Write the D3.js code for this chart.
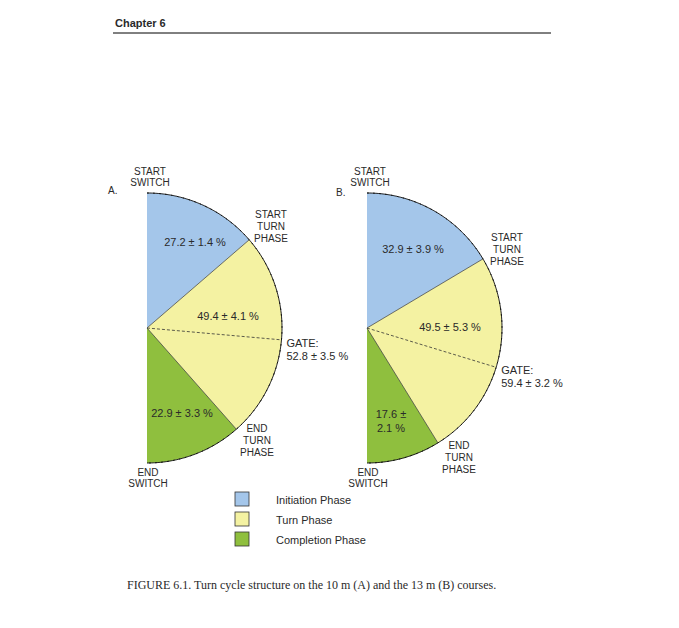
<!DOCTYPE html>
<html>
<head>
<meta charset="utf-8">
<script src="https://cdn.jsdelivr.net/npm/d3@7"></script>
<style>
  body { margin: 0; background: #fff; }
  svg text { font-family: "Liberation Sans", Arial, sans-serif; fill: #2a2a2a; }
</style>
</head>
<body>
<div id="chart"></div>
<script>
const phases = ['Initiation Phase', 'Turn Phase', 'Completion Phase'];
const colors = ['#a4c6ea', '#f4f2a2', '#8fbf3e'];
const valuesA = [27.2, 49.4, 22.9];
const valuesB = [32.9, 49.5, 17.6];
const labelsA = [['27.2 ± 1.4 %'], ['49.4 ± 4.1 %'], ['22.9 ± 3.3 %']];
const labelsB = [['32.9 ± 3.9 %'], ['49.5 ± 5.3 %'], ['17.6 ±', '2.1 %']];
const gateA = 52.8, gateB = 59.4;
const gateTextA = ['GATE:', '52.8 ± 3.5 %'];
const gateTextB = ['GATE:', '59.4 ± 3.2 %'];

const svg = d3.select('#chart').append('svg')
  .attr('width', 679).attr('height', 628);

// page header
svg.append('text').attr('x', 115).attr('y', 27)
  .style('font-weight', 'bold').style('font-size', '11px').text('Chapter 6');
svg.append('line').attr('x1', 113).attr('x2', 551).attr('y1', 33).attr('y2', 33)
  .attr('stroke', '#000').attr('stroke-width', 1);

const radius = 135;
const pct = d3.scaleLinear().domain([0, 100]).range([0, Math.PI]);
const pie = d3.pie().sort(null).startAngle(0).endAngle(Math.PI);
const arc = d3.arc().innerRadius(0).outerRadius(radius);

function multiText(g, x, y, lines, anchor, size, lh) {
  const t = g.append('text').attr('x', x).attr('y', y)
    .attr('text-anchor', anchor).style('font-size', size + 'px');
  lines.forEach((l, i) => t.append('tspan').attr('x', x).attr('dy', i === 0 ? 0 : lh).text(l));
}

function halfPie(cx, cy, values, labels, gate, gateText, opts) {
  const g = svg.append('g').attr('transform', `translate(${cx}, ${cy})`);
  const arcs = pie(values);

  g.selectAll('path.slice').data(arcs).enter().append('path')
    .attr('class', 'slice')
    .attr('d', arc)
    .attr('fill', (d, i) => colors[i]);

  // outer dashed rim
  g.append('path')
    .attr('d', d3.arc().innerRadius(radius).outerRadius(radius).startAngle(0).endAngle(Math.PI)())
    .attr('fill', 'none').attr('stroke', '#111').attr('stroke-width', 0.9)
    .attr('stroke-dasharray', '4,2');

  // phase boundaries
  g.selectAll('line.bound').data(arcs.slice(1)).enter().append('line')
    .attr('class', 'bound')
    .attr('x1', 0).attr('y1', 0)
    .attr('x2', d => radius * Math.sin(d.startAngle))
    .attr('y2', d => -radius * Math.cos(d.startAngle))
    .attr('stroke', '#333').attr('stroke-width', 0.7);

  // gate line
  const ga = pct(gate);
  g.append('line').attr('x1', 0).attr('y1', 0)
    .attr('x2', radius * Math.sin(ga)).attr('y2', -radius * Math.cos(ga))
    .attr('stroke', '#333').attr('stroke-width', 0.8).attr('stroke-dasharray', '3,2');

  // slice labels
  labels.forEach((l, i) => multiText(g, opts.slice[i][0], opts.slice[i][1], l, 'middle', 11, 14));

  multiText(g, radius * Math.sin(ga) + 5, -radius * Math.cos(ga) + 7, gateText, 'start', 11, 13);

  multiText(g, 3, -153, ['START', 'SWITCH'], 'middle', 10, 11);
  multiText(g, 1, 148, ['END', 'SWITCH'], 'middle', 10, 11);
  multiText(g, opts.startTurn[0], opts.startTurn[1], ['START', 'TURN', 'PHASE'], 'middle', 10, 12);
  multiText(g, opts.endTurn[0], opts.endTurn[1], ['END', 'TURN', 'PHASE'], 'middle', 10, 12);

  g.append('text').attr('x', opts.letter[0]).attr('y', opts.letter[1])
    .style('font-size', '10px').text(opts.letterText);
}

halfPie(147, 328, valuesA, labelsA, gateA, gateTextA, {
  slice: [[48, -82], [81, -8], [35, 89]],
  startTurn: [124, -110],
  endTurn: [110, 104],
  letter: [-39, -134], letterText: 'A.'
});

halfPie(367, 328, valuesB, labelsB, gateB, gateTextB, {
  slice: [[46, -75], [83, 3], [24, 90]],
  startTurn: [140, -87],
  endTurn: [92, 121],
  letter: [-31, -132], letterText: 'B.'
});

// legend
const legend = svg.append('g').attr('transform', 'translate(235, 492)');
phases.forEach((p, i) => {
  legend.append('rect').attr('x', 0).attr('y', i * 20).attr('width', 14).attr('height', 14)
    .attr('fill', colors[i]).attr('stroke', '#333').attr('stroke-width', 0.8);
  legend.append('text').attr('x', 41).attr('y', i * 20 + 12)
    .style('font-size', '11px').text(p);
});

// caption
svg.append('text').attr('x', 127).attr('y', 589)
  .style('font-family', '"Liberation Serif", "DejaVu Serif", serif').style('font-size', '12px')
  .text('FIGURE 6.1.  Turn cycle structure on the 10 m (A) and the 13 m (B) courses.');
</script>
</body>
</html>
